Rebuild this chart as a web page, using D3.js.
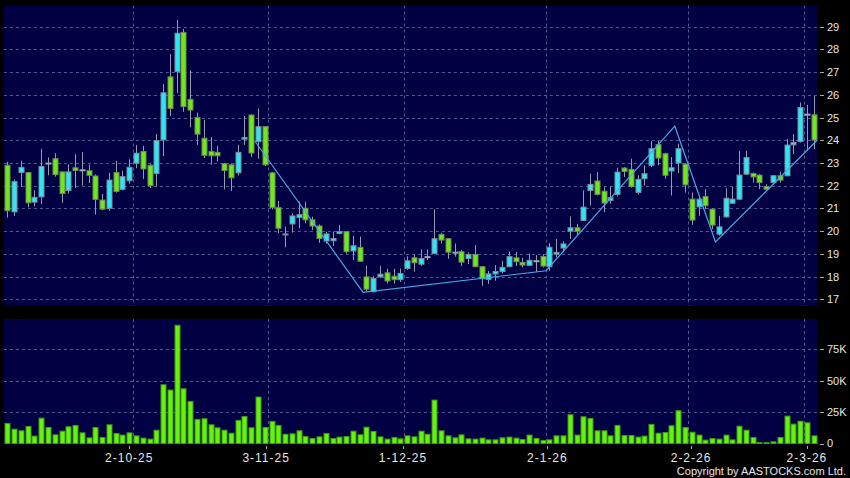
<!DOCTYPE html>
<html><head><meta charset="utf-8">
<script src="https://cdn.jsdelivr.net/npm/d3@7"></script>
<style>
html,body{margin:0;padding:0;background:#000;}
svg{display:block;}
text{font-family:"Liberation Sans",Arial,sans-serif;}
</style></head>
<body>
<svg id="chart" width="850" height="478"></svg>
<script>
// ---- data ----
const openP  = [22.9,20.85,22.58,22.58,21.28,21.51,23.0,23.19,22.61,21.79,22.79,22.7,22.66,22.43,21.37,21.01,22.58,21.84,22.22,22.99,
23.51,22.9,22.54,24.02,26.79,27.02,28.75,25.8,25.0,24.09,23.51,23.47,22.97,22.92,22.57,24.05,25.11,23.95,24.6,22.57,
21.04,19.84,20.32,20.6,21.01,20.5,20.23,19.57,19.58,19.9,19.98,19.13,19.29,17.99,17.34,17.99,18.17,18.02,17.87,18.36,
18.83,18.55,18.88,19.02,19.86,19.67,19.08,19.1,18.8,18.98,18.44,17.88,18.12,18.23,18.44,18.83,18.63,18.5,18.7,18.89,
18.44,18.99,19.26,20.0,20.15,20.47,21.79,22.21,21.76,21.35,21.62,22.78,22.72,21.71,22.31,22.9,23.81,23.41,22.65,23.0,
22.95,21.41,21.07,21.53,20.97,19.87,20.63,21.23,21.41,22.51,22.54,22.47,21.97,22.14,22.44,22.44,23.8,23.95,25.15,25.12];
const highP  = [23.05,22.27,23.1,22.6,21.8,23.63,23.25,23.43,22.62,22.94,23.39,23.48,22.93,22.5,21.64,22.58,23.1,22.66,23.16,23.79,
23.76,22.95,24.28,26.47,27.8,29.29,28.9,27.08,25.22,24.9,24.14,23.76,23.0,22.98,23.8,25.07,25.15,25.4,24.62,22.6,
21.33,20.2,20.79,21.3,21.3,20.64,20.3,19.98,19.98,20.27,20.0,19.8,19.76,18.48,18.02,18.48,18.35,18.35,18.36,18.9,
18.99,19.2,19.2,20.97,19.93,19.7,19.46,19.17,19.07,19.39,18.45,18.26,18.51,18.7,19.1,19.1,18.83,19.02,18.95,18.99,
19.47,19.66,19.56,20.65,20.32,21.79,22.53,22.6,21.94,21.97,22.79,22.82,23.19,22.46,22.9,23.97,23.97,23.45,23.26,23.85,
23.0,21.7,21.56,21.85,21.0,20.68,21.89,21.95,23.54,23.54,22.58,22.5,22.07,22.47,22.63,24.05,24.27,25.66,25.56,25.96];
const lowP   = [20.6,20.67,21.95,21.05,21.1,21.2,22.46,22.4,21.25,21.66,21.9,22.01,22.12,20.73,20.92,20.9,21.7,21.8,22.09,22.77,
22.3,21.9,21.98,23.3,25.07,26.09,25.26,24.57,23.8,23.22,22.93,23.08,21.84,21.77,22.45,23.8,23.26,23.19,22.86,20.96,
19.91,19.29,19.94,20.13,20.35,20.05,19.49,19.46,19.35,19.86,19.02,18.73,18.65,17.37,17.31,17.95,17.7,17.7,17.77,18.3,
18.22,18.47,18.73,18.99,19.46,18.79,18.88,18.47,18.55,18.41,17.6,17.68,17.82,18.15,18.41,18.47,18.41,18.47,18.22,18.41,
18.26,18.85,19.07,19.66,19.81,20.45,21.13,21.57,20.84,21.21,21.53,22.38,21.91,21.62,22.01,22.82,22.9,22.31,21.57,22.56,
21.7,20.28,20.68,20.97,20.09,19.8,20.6,21.2,21.38,22.48,22.14,21.85,21.78,22.07,22.14,22.41,23.39,23.9,23.54,23.61];
const closeP = [20.9,22.18,22.81,21.25,21.49,22.85,23.0,22.49,21.66,22.61,22.67,22.7,22.46,21.4,20.97,22.25,21.75,22.4,22.81,23.43,
22.74,22.0,23.99,26.09,25.4,28.71,25.48,25.33,24.27,23.34,23.32,23.32,22.67,22.35,23.47,24.12,23.44,24.6,22.92,21.04,
20.13,19.88,20.67,20.73,20.5,20.23,19.68,19.88,19.68,19.98,19.1,19.36,18.68,17.45,17.92,18.11,17.81,17.87,18.14,18.7,
18.61,18.8,18.88,19.67,19.61,19.08,19.08,18.64,18.98,18.44,17.91,18.12,18.23,18.41,18.88,18.66,18.51,18.72,18.7,18.47,
19.29,19.07,19.44,20.15,20.0,21.06,22.06,21.62,21.24,21.47,22.6,22.63,21.97,22.28,22.53,23.63,23.22,22.46,22.79,23.63,
22.04,20.49,21.41,21.12,20.27,20.19,21.45,21.41,22.47,23.24,22.39,22.14,21.85,22.44,22.25,23.79,23.9,25.44,25.15,24.01];
const volumeK = [16,11.4,10.1,13.6,5.9,20.2,12.8,6.9,9.8,13.3,14.4,8.5,4.5,12.8,4.8,14.9,8.0,6.7,8.5,6.1,
4.3,3.5,10.6,46.8,42.6,94.2,43.6,33.5,19.2,19.7,14.9,12.5,10.6,8.2,18.4,21.5,12.5,37,12.8,17.6,
14.4,7.4,7.7,10.1,5.6,4.0,5.3,8.0,4.0,5.1,5.6,9.8,6.9,13.0,9.6,5.3,3.5,4.8,3.7,6.1,
5.3,9.8,7.4,34.6,10.1,6.1,4.5,6.9,3.7,3.5,4.3,2.9,2.9,4.5,5.1,4.3,3.2,6.7,4.0,2.4,
2.9,6.1,6.1,22.9,6.7,21.3,20.0,10.1,10.1,6.1,14.4,6.4,6.4,5.1,5.9,15.2,8.2,8.8,14.1,26.1,
12.8,9.0,6.7,2.7,4.0,3.5,6.7,2.9,13.8,10.6,4.8,0.8,0.8,1.3,4.8,21.8,15.4,17.8,16.5,6.1];
// zig-zag trend line: slot index and price of each vertex
const zigSlot  = [37, 53, 80, 99, 105, 120];
const zigPrice = [23.98, 17.31, 18.26, 24.62, 19.53, 24.0];
// date axis
const dateLabels = ["2-10-25","3-11-25","1-12-25","2-1-26","2-2-26","2-3-26"];
const dateTickSlot = [18.5, 38.7, 58.9, 80.2, 101.4, 118.5];
const dateGridSlot = [19, 39, 59, 80, 101, 118];
const priceTicks = [17,18,19,20,21,22,23,24,25,26,27,28,29];
const volTicks = [0,25000,50000,75000];
const volTickLabels = ["0","25K","50K","75K"];

// ---- layout ----
const svg = d3.select("#chart");
const W = 850, H = 478;
const left = 3.9, right = 817.1;
const pTop = 5.5, pBot = 306;
const vTop = 319, vBot = 443.5;
const N = openP.length;

const x = d3.scaleLinear().domain([0, N]).range([left, right]);
const y = d3.scaleLinear().domain([16.71, 29.93]).range([pBot, pTop]);
const yv = d3.scaleLinear().domain([0, 99200]).range([vBot, vTop]);

const panelFill = "#000042";
const gridCol = "#4e5a92";
const upFill = "#2ee6f2", upStroke = "#7d8c9c";
const dnFill = "#6ee81c", dnStroke = "#6f8a52";
const wickCol = "#9a9aae";
const txtCol = "#e6e6e6";

svg.append("rect").attr("width", W).attr("height", H).attr("fill", "#000");
svg.append("rect").attr("x", left).attr("y", pTop).attr("width", right-left).attr("height", pBot-pTop).attr("fill", panelFill);
svg.append("rect").attr("x", left).attr("y", vTop).attr("width", right-left).attr("height", vBot-vTop+1).attr("fill", panelFill);

// gridlines
const g = svg.append("g").attr("stroke", gridCol).attr("stroke-width", 1).attr("stroke-dasharray", "3,3");
g.selectAll(".hp").data(priceTicks).join("line")
  .attr("x1", left).attr("x2", right)
  .attr("y1", d => Math.round(y(d)) + 0.5).attr("y2", d => Math.round(y(d)) + 0.5);
g.selectAll(".hv").data(volTicks.slice(1)).join("line")
  .attr("x1", left).attr("x2", right)
  .attr("y1", d => Math.round(yv(d)) + 0.5).attr("y2", d => Math.round(yv(d)) + 0.5);
g.selectAll(".vp").data(dateGridSlot).join("line")
  .attr("x1", d => Math.round(x(d)) + 0.5).attr("x2", d => Math.round(x(d)) + 0.5)
  .attr("y1", pTop).attr("y2", pBot);
g.selectAll(".vv").data(dateGridSlot).join("line")
  .attr("x1", d => Math.round(x(d)) + 0.5).attr("x2", d => Math.round(x(d)) + 0.5)
  .attr("y1", vTop).attr("y2", vBot);

// candles
const idx = d3.range(N);
const bodyW = 5;
const cg = svg.append("g");
cg.selectAll(".wick").data(idx).join("line")
  .attr("x1", i => Math.round(x(i + 0.5)) + 0.5).attr("x2", i => Math.round(x(i + 0.5)) + 0.5)
  .attr("y1", i => y(highP[i])).attr("y2", i => y(lowP[i]))
  .attr("stroke", wickCol).attr("stroke-width", 1);
cg.selectAll(".body").data(idx).join("rect")
  .attr("x", i => Math.round(x(i + 0.5)) + 0.5 - bodyW/2)
  .attr("width", bodyW)
  .attr("y", i => y(Math.max(openP[i], closeP[i])))
  .attr("height", i => Math.max(1, y(Math.min(openP[i], closeP[i])) - y(Math.max(openP[i], closeP[i]))))
  .attr("fill", i => closeP[i] > openP[i] ? upFill : (closeP[i] < openP[i] ? dnFill : "#9aa6b8"))
  .attr("stroke", i => closeP[i] > openP[i] ? upStroke : (closeP[i] < openP[i] ? dnStroke : "#9aa6b8"))
  .attr("stroke-width", 1);

// zig-zag line
svg.append("path")
  .datum(d3.range(zigSlot.length))
  .attr("d", d3.line().x(k => x(zigSlot[k])).y(k => y(zigPrice[k])))
  .attr("fill", "none").attr("stroke", "#4aa8e8").attr("stroke-width", 1.2);

// volume bars
svg.append("g").selectAll("rect").data(idx).join("rect")
  .attr("x", i => Math.round(x(i + 0.5)) + 0.5 - bodyW/2)
  .attr("width", bodyW)
  .attr("y", i => yv(volumeK[i] * 1000))
  .attr("height", i => vBot - yv(volumeK[i] * 1000))
  .attr("fill", "#66f20e").attr("stroke", "#3f9a10").attr("stroke-width", 1);

// right price axis
const ax = svg.append("g");
ax.selectAll(".pt").data(priceTicks).join("line")
  .attr("x1", 820).attr("x2", 824)
  .attr("y1", d => Math.round(y(d)) + 0.5).attr("y2", d => Math.round(y(d)) + 0.5)
  .attr("stroke", "#aaa");
ax.selectAll(".pl").data(priceTicks).join("text")
  .attr("x", 827).attr("y", d => y(d)).attr("dy", "0.36em")
  .attr("fill", txtCol).attr("font-size", 11).text(d => d);
// volume axis
ax.selectAll(".vt").data(volTicks).join("line")
  .attr("x1", 820).attr("x2", 824)
  .attr("y1", d => Math.round(yv(d)) + 0.5).attr("y2", d => Math.round(yv(d)) + 0.5)
  .attr("stroke", "#aaa");
ax.selectAll(".vl").data(volTicks).join("text")
  .attr("x", 827).attr("y", d => yv(d)).attr("dy", "0.36em")
  .attr("fill", txtCol).attr("font-size", 11).text((d, k) => volTickLabels[k]);
// date axis
ax.selectAll(".dt").data(dateTickSlot).join("line")
  .attr("x1", d => Math.round(x(d)) + 0.5).attr("x2", d => Math.round(x(d)) + 0.5)
  .attr("y1", 446).attr("y2", 449).attr("stroke", "#aaa");
ax.selectAll(".dl").data(dateTickSlot).join("text")
  .attr("x", d => x(d)).attr("y", 462).attr("text-anchor", "middle")
  .attr("fill", txtCol).attr("font-size", 12).attr("letter-spacing", 1)
  .text((d, k) => dateLabels[k]);

svg.append("text").attr("x", 846).attr("y", 475).attr("text-anchor", "end")
  .attr("fill", txtCol).attr("font-size", 11).text("Copyright by AASTOCKS.com Ltd.");
</script>
</body></html>
